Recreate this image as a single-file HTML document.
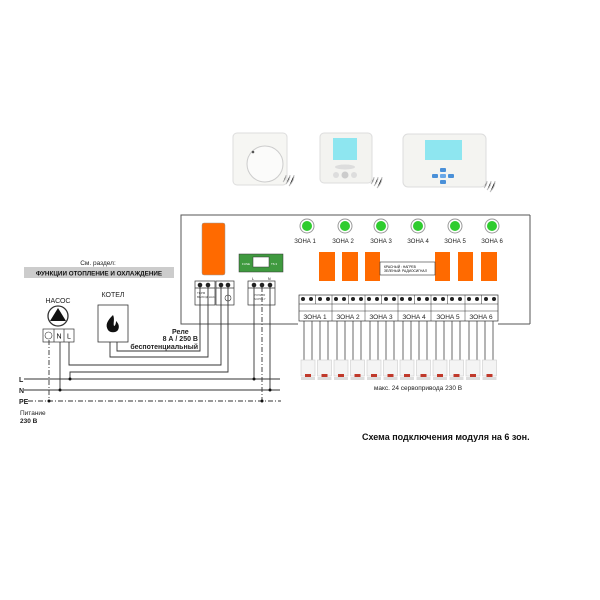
<!DOCTYPE html>
<html><head><meta charset="utf-8"><style>
html,body{margin:0;padding:0;background:#fff;}
svg{display:block;font-family:"Liberation Sans","DejaVu Sans",sans-serif;}
</style></head><body>
<svg width="600" height="600" viewBox="0 0 600 600" xmlns="http://www.w3.org/2000/svg">
<rect width="600" height="600" fill="#fff"/>

<rect x="233" y="133" width="54" height="52" rx="4" fill="#f6f6f3" stroke="#ddd"/>
<circle cx="265" cy="164" r="18" fill="#fbfbfa" stroke="#ccc"/>
<circle cx="253" cy="152" r="1.3" fill="#555"/>
<g stroke="#bbb" stroke-width="1"><path d="M283 182 q3 -3 3 -7 M286 184 q4 -4 4 -9 M289 186 q5 -5 5 -11"/></g>

<rect x="320" y="133" width="52" height="50" rx="4" fill="#f3f3f0" stroke="#ddd"/>
<rect x="333" y="138" width="24" height="22" fill="#8ee6f0"/>
<ellipse cx="345" cy="167" rx="10" ry="2.5" fill="#ddd"/>
<circle cx="336" cy="175" r="3" fill="#ddd"/><circle cx="345" cy="175" r="3.5" fill="#ccc"/><circle cx="354" cy="175" r="3" fill="#ddd"/>
<g stroke="#bbb"><path d="M371 184 q3 -3 3 -7 M374 186 q4 -4 4 -9 M377 188 q5 -5 5 -11"/></g>

<rect x="403" y="134" width="83" height="53" rx="5" fill="#f4f4f1" stroke="#ddd"/>
<rect x="425" y="140" width="37" height="20" fill="#8ee6f0"/>
<g fill="#4a90d8"><rect x="440" y="168" width="6" height="4" rx="1"/><rect x="440" y="180" width="6" height="4" rx="1"/><rect x="432" y="174" width="6" height="4" rx="1"/><rect x="448" y="174" width="6" height="4" rx="1"/><rect x="440" y="174" width="6" height="4" rx="1" fill="#6aa8e8"/></g>
<g stroke="#bbb"><path d="M484 188 q3 -3 3 -7 M487 190 q4 -4 4 -9 M490 192 q5 -5 5 -11"/></g>

<polyline points="530,215 181,215 181,324 298,324" fill="none" stroke="#555" stroke-width="1"/>
<line x1="498" y1="324" x2="530" y2="324" stroke="#555"/>
<line x1="530" y1="215" x2="530" y2="324" stroke="#555"/>
<rect x="202" y="223" width="23" height="52" rx="2" fill="#ff6a00" stroke="#999" stroke-width="0.5"/>
<rect x="239" y="254" width="44" height="18" fill="#3f9a3f" stroke="#333" stroke-width="0.5"/>
<rect x="253" y="257" width="16" height="10" fill="#fff" stroke="#333" stroke-width="0.5"/>
<text x="242" y="265" font-size="3" fill="#fff">FUSE</text><text x="271" y="265" font-size="3" fill="#fff">T6.3</text>

<g stroke="#333" stroke-width="0.7" fill="#fff">
<rect x="195" y="281" width="20" height="24"/><rect x="216" y="281" width="18" height="24"/>
<rect x="248" y="281" width="27" height="24"/>
<line x1="195" y1="288" x2="215" y2="288"/><line x1="216" y1="288" x2="234" y2="288"/><line x1="248" y1="288" x2="275" y2="288"/>
</g>
<g fill="#222"><circle cx="200" cy="285" r="2.3"/><circle cx="208" cy="285" r="2.3"/><circle cx="221" cy="285" r="2.3"/><circle cx="228" cy="285" r="2.3"/><circle cx="254" cy="285" r="2.3"/><circle cx="262" cy="285" r="2.3"/><circle cx="270" cy="285" r="2.3"/></g>
<circle cx="228" cy="298" r="3" fill="#fff" stroke="#333" stroke-width="0.6"/>
<text x="197" y="294" font-size="3" fill="#444">ТЕРМ</text><text x="197" y="298" font-size="3" fill="#444">ВЫХОД НАС.</text>
<text x="254" y="296" font-size="3" fill="#444">POWER</text><text x="254" y="300" font-size="3" fill="#444">SUPPLY</text>
<text x="252" y="280" font-size="3.5">L</text><text x="268" y="280" font-size="3.5">N</text>

<g font-size="6" text-anchor="middle" fill="#222">
<g stroke="#999" stroke-width="1" fill="#fff">
<circle cx="307" cy="226" r="7"/><circle cx="345" cy="226" r="7"/><circle cx="381" cy="226" r="7"/><circle cx="418" cy="226" r="7"/><circle cx="455" cy="226" r="7"/><circle cx="492" cy="226" r="7"/></g>
<g fill="#2ecc2e"><circle cx="307" cy="226" r="5"/><circle cx="345" cy="226" r="5"/><circle cx="381" cy="226" r="5"/><circle cx="418" cy="226" r="5"/><circle cx="455" cy="226" r="5"/><circle cx="492" cy="226" r="5"/></g>
<text x="305" y="243">ЗОНА 1</text><text x="343" y="243">ЗОНА 2</text><text x="381" y="243">ЗОНА 3</text><text x="418" y="243">ЗОНА 4</text><text x="455" y="243">ЗОНА 5</text><text x="492" y="243">ЗОНА 6</text>
</g>
<g fill="#ff6a00"><rect x="319" y="252" width="16" height="29"/><rect x="342" y="252" width="16" height="29"/><rect x="365" y="252" width="15" height="29"/><rect x="435" y="252" width="15" height="29"/><rect x="458" y="252" width="15" height="29"/><rect x="481" y="252" width="16" height="29"/></g>
<rect x="380" y="262" width="55" height="13" fill="#fff" stroke="#333" stroke-width="0.6"/>
<text x="384" y="268" font-size="3.3">КРАСНЫЙ : НАГРЕВ</text><text x="384" y="272" font-size="3.3">ЗЕЛЕНЫЙ: РАДИОСИГНАЛ</text>

<rect x="299" y="295" width="199" height="26" fill="#fff" stroke="#333" stroke-width="0.7"/>
<line x1="299" y1="304" x2="498" y2="304" stroke="#333" stroke-width="0.5"/>
<line x1="299" y1="311" x2="498" y2="311" stroke="#333" stroke-width="0.5"/>
<g stroke="#333" stroke-width="0.5">
<line x1="315.5" y1="295" x2="315.5" y2="304"/><line x1="332" y1="295" x2="332" y2="321"/><line x1="348.5" y1="295" x2="348.5" y2="304"/><line x1="365" y1="295" x2="365" y2="321"/><line x1="381.5" y1="295" x2="381.5" y2="304"/><line x1="398" y1="295" x2="398" y2="321"/><line x1="414.5" y1="295" x2="414.5" y2="304"/><line x1="431" y1="295" x2="431" y2="321"/><line x1="447.5" y1="295" x2="447.5" y2="304"/><line x1="465" y1="295" x2="465" y2="321"/><line x1="481.5" y1="295" x2="481.5" y2="304"/>
</g>
<g font-size="6.5" text-anchor="middle" fill="#222"><text x="315" y="319">ЗОНА 1</text><text x="348" y="319">ЗОНА 2</text><text x="381" y="319">ЗОНА 3</text><text x="414" y="319">ЗОНА 4</text><text x="448" y="319">ЗОНА 5</text><text x="481" y="319">ЗОНА 6</text></g>
<g fill="#222">
<circle cx="303" cy="299" r="2"/><circle cx="311" cy="299" r="2"/><circle cx="320" cy="299" r="2"/><circle cx="328" cy="299" r="2"/>
<circle cx="336" cy="299" r="2"/><circle cx="344" cy="299" r="2"/><circle cx="353" cy="299" r="2"/><circle cx="361" cy="299" r="2"/>
<circle cx="369" cy="299" r="2"/><circle cx="377" cy="299" r="2"/><circle cx="386" cy="299" r="2"/><circle cx="394" cy="299" r="2"/>
<circle cx="402" cy="299" r="2"/><circle cx="410" cy="299" r="2"/><circle cx="419" cy="299" r="2"/><circle cx="427" cy="299" r="2"/>
<circle cx="435" cy="299" r="2"/><circle cx="443" cy="299" r="2"/><circle cx="452" cy="299" r="2"/><circle cx="460" cy="299" r="2"/>
<circle cx="469" cy="299" r="2"/><circle cx="477" cy="299" r="2"/><circle cx="486" cy="299" r="2"/><circle cx="494" cy="299" r="2"/>
</g>

<g stroke="#444" stroke-width="0.8">
<path d="M304 321V362M312 321V362M320 321V362M328 321V362M337 321V362M345 321V362M353 321V362M361 321V362M370 321V362M378 321V362M386 321V362M394 321V362M403 321V362M411 321V362M419 321V362M427 321V362M436 321V362M444 321V362M452 321V362M460 321V362M469 321V362M477 321V362M485 321V362M493 321V362"/>
</g>
<g>
<g id="a"><rect x="301" y="360" width="14" height="16" fill="#f4f4f4" stroke="#ccc" stroke-width="0.6"/><rect x="305" y="374" width="6" height="3" fill="#c0392b"/><rect x="301" y="377" width="14" height="3" fill="#ddd"/></g>
<use href="#a" x="16.5"/><use href="#a" x="33"/><use href="#a" x="49.5"/><use href="#a" x="66"/><use href="#a" x="82.5"/><use href="#a" x="99"/><use href="#a" x="115.5"/><use href="#a" x="132"/><use href="#a" x="148.5"/><use href="#a" x="165"/><use href="#a" x="181.5"/>
</g>
<text x="418" y="390" font-size="6.5" text-anchor="middle" fill="#222">макс. 24 сервопривода 230 В</text>

<text x="98" y="265" font-size="6.5" text-anchor="middle" fill="#222">См. раздел:</text>
<rect x="24" y="267" width="150" height="11" fill="#ccc"/>
<text x="99" y="275.5" font-size="6.3" font-weight="bold" text-anchor="middle" fill="#111">ФУНКЦИИ ОТОПЛЕНИЕ И ОХЛАЖДЕНИЕ</text>
<text x="58" y="303" font-size="7" text-anchor="middle" fill="#222">НАСОС</text>
<text x="113" y="297" font-size="7" text-anchor="middle" fill="#222">КОТЕЛ</text>
<circle cx="58" cy="316" r="10" fill="#fff" stroke="#333" stroke-width="1.3"/>
<polygon points="58,308 66,321 50,321" fill="#111"/>
<rect x="43" y="329" width="31" height="13" fill="#fff" stroke="#333" stroke-width="0.7"/>
<line x1="54" y1="329" x2="54" y2="342" stroke="#333" stroke-width="0.7"/><line x1="64" y1="329" x2="64" y2="342" stroke="#333" stroke-width="0.7"/>
<circle cx="48.5" cy="335.5" r="3.5" fill="none" stroke="#333" stroke-width="0.6"/>
<text x="59" y="338.5" font-size="7" text-anchor="middle">N</text><text x="69" y="338.5" font-size="7" text-anchor="middle">L</text>
<rect x="98" y="305" width="30" height="37" fill="#fff" stroke="#333" stroke-width="0.8"/>
<path d="M113 315 c-6 6 -8 10 -5 15 c2 3 8 3 10 0 c2 -4 0 -7 -2 -9 c0 3 -1 5 -2 5 c-1 -3 1 -7 -1 -11z" fill="#111"/>
<text x="172" y="334" font-size="7" font-weight="bold" fill="#222">Реле</text>
<text x="198" y="341" font-size="7" font-weight="bold" fill="#222" text-anchor="end">8 А / 250 В</text>
<text x="198" y="349" font-size="7" font-weight="bold" fill="#222" text-anchor="end">беспотенциальный</text>

<g stroke="#333" stroke-width="0.9" fill="none">
<path d="M110 342V357H208V287"/>
<path d="M117 342V351H200V287"/>
<path d="M69 342V365H221V287"/>
<path d="M70 379V372H228V287"/>
<path d="M60 342V390"/>
<path d="M254 287V379"/><path d="M270 287V390"/>
<line x1="24" y1="379" x2="280" y2="379"/>
<line x1="24" y1="390" x2="280" y2="390"/>
</g>
<g stroke="#333" stroke-width="0.9" stroke-dasharray="5,2,1,2" fill="none">
<line x1="28" y1="401" x2="281" y2="401"/>
<path d="M49 340V401"/><path d="M262 287V401"/>
</g>
<g fill="#111"><circle cx="70" cy="379" r="1.5"/><circle cx="60" cy="390" r="1.5"/><circle cx="49" cy="401" r="1.5"/><circle cx="254" cy="379" r="1.5"/><circle cx="270" cy="390" r="1.5"/><circle cx="262" cy="401" r="1.5"/></g>
<g font-size="7" font-weight="bold" fill="#222"><text x="19" y="382">L</text><text x="19" y="393">N</text><text x="19" y="404">PE</text></g>
<text x="20" y="415" font-size="6.5" fill="#222">Питание</text>
<text x="20" y="423" font-size="6.5" font-weight="bold" fill="#222">230 В</text>

<text x="362" y="440" font-size="9" font-weight="bold" fill="#111">Схема подключения модуля на 6 зон.</text>
</svg>
</body></html>
